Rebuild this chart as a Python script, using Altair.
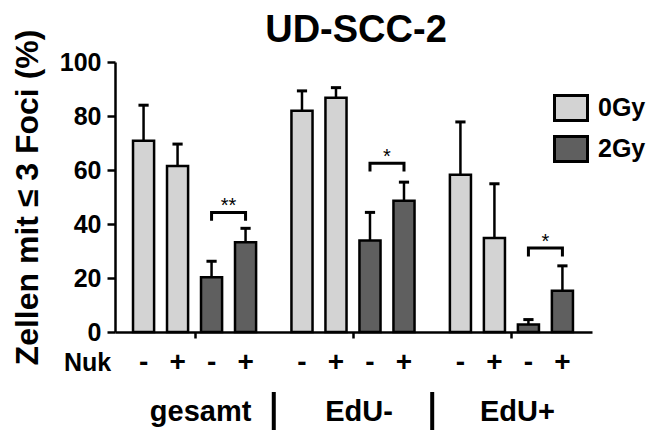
import altair as alt
import pandas as pd

# ---------------- data ----------------
groups = ["gesamt", "EdU-", "EdU+"]
dose = ["0Gy", "0Gy", "2Gy", "2Gy"]
nuk = ["-", "+", "-", "+"]

mean_gesamt = [70.8, 61.5, 20.3, 33.2]
err_gesamt = [13.2, 8.1, 5.9, 5.2]
mean_edu_neg = [81.9, 86.8, 33.9, 48.6]
err_edu_neg = [7.4, 3.7, 10.4, 6.9]
mean_edu_pos = [58.2, 34.8, 2.8, 15.3]
err_edu_pos = [19.6, 20.1, 1.8, 9.2]

sig_labels = ["**", "*", "*"]
sig_heights = [44.3, 62.5, 31.1]
bracket_drop = 3.1

y_ticks = [0, 20, 40, 60, 80, 100]
legend_labels = ["0Gy", "2Gy"]
colors = ["#d3d3d3", "#5f5f5f"]
title_text = "UD-SCC-2"

# ---------------- layout helpers ----------------
GROUP_PITCH = 4.66
HALF_BAR = 0.31
HALF_CAP = 0.15
means = [mean_gesamt, mean_edu_neg, mean_edu_pos]
errs = [err_gesamt, err_edu_neg, err_edu_pos]

rows = []
for g, grp in enumerate(groups):
    for i in range(4):
        xc = g * GROUP_PITCH + i
        m = means[g][i]
        rows.append(dict(group=grp, dose=dose[i], nuk=nuk[i], xc=xc,
                         x0=xc - HALF_BAR, x1=xc + HALF_BAR,
                         c0=xc - HALF_CAP, c1=xc + HALF_CAP,
                         mean=m, top=m + errs[g][i], zero=0))
bars = pd.DataFrame(rows)

brow = []
for g in range(3):
    xa = g * GROUP_PITCH + 2
    xb = g * GROUP_PITCH + 3
    h = sig_heights[g]
    pts = [(xa, h - bracket_drop), (xa, h), (xb, h), (xb, h - bracket_drop)]
    for k, (px, py) in enumerate(pts):
        brow.append(dict(b=g, o=k, x=px, y=py))
brackets = pd.DataFrame(brow)

stars = pd.DataFrame(dict(
    x=[g * GROUP_PITCH + 2.5 for g in range(3)], y=sig_heights, t=sig_labels))
glabels = pd.DataFrame(dict(
    x=[g * GROUP_PITCH + 1.5 for g in range(3)], t=groups))
seps = pd.DataFrame(dict(x=[g * GROUP_PITCH + 3 + (GROUP_PITCH - 3) / 2 for g in range(2)]))
titles = pd.DataFrame(dict(t=[title_text]))

xscale = alt.Scale(domain=[-0.84, 2 * GROUP_PITCH + 3 + 0.87], nice=False, zero=False)
yscale = alt.Scale(domain=[0, 100], nice=False)
FONT = "Liberation Sans"

base = alt.Chart(bars)

bar_layer = base.mark_rect(stroke="black", strokeWidth=2.5).encode(
    x=alt.X("x0:Q", scale=xscale,
            axis=alt.Axis(values=[g * GROUP_PITCH + 1.5 for g in range(3)], labels=False,
                          tickSize=6, tickWidth=2.5, tickColor="black",
                          domainColor="black", domainWidth=2.5, grid=False, title=None)),
    x2="x1:Q",
    y=alt.Y("mean:Q", scale=yscale,
            axis=alt.Axis(values=y_ticks, labelFontSize=25, labelFontWeight="bold",
                          labelFont=FONT, labelColor="black", labelPadding=6,
                          tickSize=8, tickWidth=2.5, tickColor="black",
                          domainColor="black", domainWidth=2.5, grid=False,
                          title="Zellen mit ≤ 3 Foci (%)", titleFontSize=32,
                          titleFont=FONT, titleFontWeight="bold", titleColor="black",
                          titleAngle=-90, titleX=-78, titleY=135,
                          titleBaseline="alphabetic", titleAlign="center")),
    y2="zero:Q",
    fill=alt.Fill("dose:N", scale=alt.Scale(domain=legend_labels, range=colors),
                  legend=alt.Legend(title=None, orient="none", legendX=438, legendY=28,
                                    symbolType="M-1,-0.76L1,-0.76L1,0.76L-1,0.76Z",
                                    symbolSize=1089, symbolStrokeWidth=3,
                                    symbolStrokeColor="black", symbolOpacity=1,
                                    labelFontSize=25, labelFontWeight="bold",
                                    labelFont=FONT, labelColor="black",
                                    labelOffset=9, rowPadding=3, padding=0)),
)

err_line = base.mark_rule(color="black", strokeWidth=2.5).encode(
    x=alt.X("xc:Q", scale=xscale), y=alt.Y("mean:Q", scale=yscale), y2="top:Q")
err_cap = base.mark_rule(color="black", strokeWidth=3).encode(
    x=alt.X("c0:Q", scale=xscale), x2="c1:Q", y=alt.Y("top:Q", scale=yscale))

bracket_layer = alt.Chart(brackets).mark_line(color="black", strokeWidth=3).encode(
    x=alt.X("x:Q", scale=xscale), y=alt.Y("y:Q", scale=yscale),
    detail="b:N", order="o:Q")

star_layer = alt.Chart(stars).mark_text(baseline="alphabetic", fontSize=20, font=FONT,
                                         color="black").encode(
    x=alt.X("x:Q", scale=xscale), y=alt.Y("y:Q", scale=yscale), text="t:N")

sign_layer = base.mark_text(baseline="middle", fontSize=28, fontWeight="bold",
                            font=FONT, color="black").encode(
    x=alt.X("xc:Q", scale=xscale), y=alt.value(300.5), text="nuk:N")

nuk_label = base.transform_filter("datum.xc == 0").mark_text(
    baseline="middle", fontSize=25, fontWeight="bold", font=FONT, color="black",
    align="center").encode(x=alt.value(-27.5), y=alt.value(300.5), text=alt.value("Nuk"))

group_layer = alt.Chart(glabels).mark_text(baseline="alphabetic", fontSize=29,
                                           fontWeight="bold", font=FONT, color="black",
                                           dx=6).encode(
    x=alt.X("x:Q", scale=xscale), y=alt.value(359), text="t:N")

sep_layer = alt.Chart(seps).mark_rule(color="black", strokeWidth=4).encode(
    x=alt.X("x:Q", scale=xscale), y=alt.value(330), y2=alt.value(380))

title_layer = alt.Chart(titles).mark_text(
    baseline="alphabetic", fontSize=38, fontWeight="bold", font=FONT, color="black",
    align="center").encode(x=alt.value(241), y=alt.value(-20), text="t:N")

chart = alt.layer(
    bar_layer, err_line, err_cap, bracket_layer, star_layer,
    sign_layer, nuk_label, group_layer, sep_layer, title_layer
).properties(
    width=477, height=270,
    padding={"left": 115, "top": 62, "right": 56, "bottom": 98},
    autosize=alt.AutoSizeParams(type="none"),
    background="white",
).configure_view(stroke=None)

chart.save("out.html", embed_options={"renderer": "svg", "actions": False})
